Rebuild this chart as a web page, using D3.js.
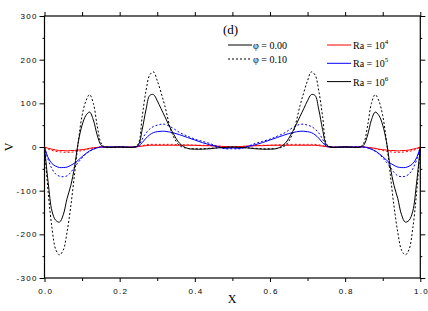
<!DOCTYPE html>
<html>
<head>
<meta charset="utf-8">
<script src="https://cdn.jsdelivr.net/npm/d3@7"></script>
<style>
  body { margin: 0; background: #fff; }
  svg { display: block; }
  .tick-lbl { font-family: "Liberation Sans", Arial, sans-serif; font-size: 8px; letter-spacing: 1.3px; fill: #000; }
  .serif { font-family: "Liberation Serif", "Times New Roman", serif; fill: #000; }
</style>
</head>
<body>
<svg class="chart" width="428" height="311"></svg>
<script>
// x positions (shared by all series)
const xs = [0, 0.01, 0.02, 0.03, 0.04, 0.05, 0.06, 0.07, 0.08, 0.09, 0.10, 0.11, 0.12, 0.13, 0.14, 0.15, 0.16, 0.20,
  0.24, 0.25, 0.26, 0.27, 0.28, 0.29, 0.30, 0.31, 0.32, 0.34, 0.36, 0.38, 0.40, 0.42, 0.44, 0.46, 0.48, 0.50,
  0.52, 0.54, 0.56, 0.58, 0.60, 0.62, 0.64, 0.66, 0.68, 0.69, 0.70, 0.71, 0.72, 0.73, 0.74, 0.75, 0.76, 0.80,
  0.84, 0.85, 0.86, 0.87, 0.88, 0.89, 0.90, 0.91, 0.92, 0.93, 0.94, 0.95, 0.96, 0.97, 0.98, 0.99, 1.00];

// Ra = 10^4
const ra4_phi0 = [0, -3, -5, -7, -8, -8, -9, -8, -8, -7, -6, -5, -3, -2, -1, 0, 0, 0,
  0, 1, 2, 3, 4, 4, 4, 4, 4, 4, 4, 4, 4, 3, 3, 2, 1, 0,
  1, 2, 3, 3, 4, 4, 4, 4, 4, 4, 4, 4, 4, 3, 2, 1, 0, 0,
  0, 0, -1, -2, -3, -5, -6, -7, -8, -8, -9, -8, -8, -7, -5, -3, 0];
const ra4_phi10 = [0, -5, -8, -10, -11, -12, -12, -12, -11, -10, -8, -6, -4, -2, -1, 0, 0, 0,
  0, 1, 3, 5, 6, 6, 6, 6, 6, 6, 5, 5, 4, 4, 3, 2, 1, 0,
  1, 2, 3, 4, 4, 5, 5, 6, 6, 6, 6, 6, 6, 5, 3, 1, 0, 0,
  0, 0, -1, -2, -4, -6, -8, -10, -11, -12, -12, -12, -11, -10, -8, -5, 0];

// Ra = 10^5
const ra5_phi0 = [0, -25, -38, -44, -47, -47, -46, -42, -37, -30, -22, -15, -9, -5, -2, 0, 0, 0,
  0, 2, 10, 20, 28, 33, 35, 36, 36, 33, 28, 22, 16, 10, 5, 1, -3, -2,
  -3, 1, 5, 10, 16, 22, 28, 33, 36, 36, 35, 33, 28, 20, 10, 2, 0, 0,
  0, 0, -2, -5, -9, -15, -22, -30, -37, -42, -46, -47, -47, -44, -38, -25, 0];
const ra5_phi10 = [0, -30, -50, -62, -67, -68, -66, -58, -46, -35, -25, -16, -10, -5, -2, 0, 0, 0,
  0, 3, 18, 32, 41, 47, 50, 52, 52, 44, 33, 25, 18, 13, 8, 1, -4, -4,
  -4, 1, 8, 13, 18, 25, 33, 44, 52, 52, 50, 47, 41, 32, 18, 3, 0, 0,
  0, 0, -2, -5, -10, -16, -25, -35, -46, -58, -66, -68, -67, -62, -50, -30, 0];

// Ra = 10^6
const ra6_phi0 = [0, -83, -147, -168, -172, -155, -118, -88, -45, 12, 50, 72, 80, 62, 28, 5, 0, 0,
  0, 5, 40, 85, 118, 120, 106, 88, 70, 35, 8, -3, -5, -5, -4, -2, -1, 0,
  -1, -2, -4, -5, -5, -3, 8, 35, 70, 88, 106, 120, 118, 85, 40, 5, 0, 0,
  0, 5, 28, 62, 80, 72, 50, 12, -45, -88, -118, -155, -172, -168, -147, -83, 0];
const ra6_phi10 = [0, -106, -186, -235, -247, -236, -195, -135, -62, 12, 72, 105, 120, 100, 50, 10, 0, 0,
  0, 8, 70, 128, 165, 172, 152, 125, 95, 30, 3, -3, -4, -4, -3, -2, -1, 0,
  -1, -2, -3, -4, -4, -3, 3, 30, 95, 125, 152, 172, 165, 128, 70, 8, 0, 0,
  0, 10, 50, 100, 120, 105, 72, 12, -62, -135, -195, -236, -247, -235, -186, -106, 0];

const xTicks = [0, 0.2, 0.4, 0.6, 0.8, 1.0];
const xMinor = [0.1, 0.3, 0.5, 0.7, 0.9];
const yTicks = [-300, -200, -100, 0, 100, 200, 300];
const yMinor = [-250, -150, -50, 50, 150, 250];

const series = [
  { vals: ra4_phi0, color: '#ff0000', dash: null },
  { vals: ra4_phi10, color: '#ff0000', dash: '2,2' },
  { vals: ra5_phi0, color: '#0000ff', dash: null },
  { vals: ra5_phi10, color: '#0000ff', dash: '2,2' },
  { vals: ra6_phi0, color: '#000', dash: null },
  { vals: ra6_phi10, color: '#000', dash: '2,2' }
];

const svg = d3.select('svg.chart');
const plotL = 44.5, plotR = 420.3, plotT = 16, plotB = 278;

const x = d3.scaleLinear().domain([0, 1]).range([plotL, plotR]);
const y = d3.scaleLinear().domain([-300, 300]).range([plotB, plotT]);

const styleAxis = g => {
  g.select('.domain').remove();
  g.selectAll('line').attr('stroke', '#000').attr('stroke-width', 1);
};

// bottom
svg.append('g').attr('transform', `translate(0,${plotB})`)
  .call(d3.axisBottom(x).tickValues(xTicks).tickSize(4).tickPadding(6).tickFormat(d3.format('.1f')))
  .call(styleAxis)
  .call(g => g.selectAll('text').attr('class', 'tick-lbl').attr('dx', '0.65px'));
svg.append('g').attr('transform', `translate(0,${plotB})`)
  .call(d3.axisBottom(x).tickValues(xMinor).tickSize(3).tickFormat(''))
  .call(styleAxis);
// top
svg.append('g').attr('transform', `translate(0,${plotT})`)
  .call(d3.axisTop(x).tickValues(xTicks.concat(xMinor)).tickSize(4).tickFormat(''))
  .call(styleAxis);
// left
svg.append('g').attr('transform', `translate(${plotL},0)`)
  .call(d3.axisLeft(y).tickValues(yTicks).tickSize(5).tickPadding(3).tickFormat(d => d))
  .call(styleAxis)
  .call(g => g.selectAll('text').attr('class', 'tick-lbl').attr('dx', '1.3px'));
svg.append('g').attr('transform', `translate(${plotL},0)`)
  .call(d3.axisLeft(y).tickValues(yMinor).tickSize(2).tickFormat(''))
  .call(styleAxis);
// right
svg.append('g').attr('transform', `translate(${plotR},0)`)
  .call(d3.axisRight(y).tickValues(yTicks).tickSize(5).tickFormat(''))
  .call(styleAxis);
svg.append('g').attr('transform', `translate(${plotR},0)`)
  .call(d3.axisRight(y).tickValues(yMinor).tickSize(2).tickFormat(''))
  .call(styleAxis);

// frame
svg.append('rect')
  .attr('x', plotL).attr('y', plotT)
  .attr('width', plotR - plotL).attr('height', plotB - plotT)
  .attr('fill', 'none').attr('stroke', '#000').attr('stroke-width', 1.2);

const line = d3.line()
  .x((d, i) => x(xs[i]))
  .y(d => y(d))
  .curve(d3.curveCatmullRom.alpha(0.5));

svg.append('g').selectAll('path').data(series)
  .enter().append('path')
    .attr('d', d => line(d.vals))
    .attr('fill', 'none')
    .attr('stroke', d => d.color)
    .attr('stroke-width', 1)
    .attr('stroke-dasharray', d => d.dash);

// axis titles
svg.append('text').attr('class', 'serif')
  .attr('x', 232).attr('y', 303).attr('text-anchor', 'middle')
  .attr('font-size', 12).text('X');
svg.append('text').attr('class', 'serif')
  .attr('transform', 'translate(13,147) rotate(-90)').attr('text-anchor', 'middle')
  .attr('font-size', 12).text('V');

// panel label
svg.append('text').attr('class', 'serif')
  .attr('x', 223).attr('y', 34).attr('font-size', 13).text('(d)');

// legend: volume fraction
const phiLegend = [
  { label: 'φ = 0.00', dash: null },
  { label: 'φ = 0.10', dash: '2,2' }
];
const lg1 = svg.append('g').selectAll('g').data(phiLegend)
  .enter().append('g')
    .attr('transform', (d, i) => `translate(228,${45 + i * 14})`);
lg1.append('line').attr('x1', 0).attr('x2', 24)
  .attr('stroke', '#000').attr('stroke-dasharray', d => d.dash);
lg1.append('text').attr('class', 'serif')
  .attr('x', 25).attr('y', 4).attr('font-size', 10).text(d => d.label);

// legend: Rayleigh number
const raLegend = [
  { exp: '4', color: '#ff0000' },
  { exp: '5', color: '#0000ff' },
  { exp: '6', color: '#000' }
];
const lg2 = svg.append('g').selectAll('g').data(raLegend)
  .enter().append('g')
    .attr('transform', (d, i) => `translate(327,${45 + i * 18.3})`);
lg2.append('line').attr('x1', 0).attr('x2', 24)
  .attr('stroke', d => d.color);
const t2 = lg2.append('text').attr('class', 'serif')
  .attr('x', 26).attr('y', 4).attr('font-size', 10);
t2.append('tspan').text('Ra =  10');
t2.append('tspan').attr('dy', -5).attr('font-size', 7).text(d => d.exp);
</script>
</body>
</html>
